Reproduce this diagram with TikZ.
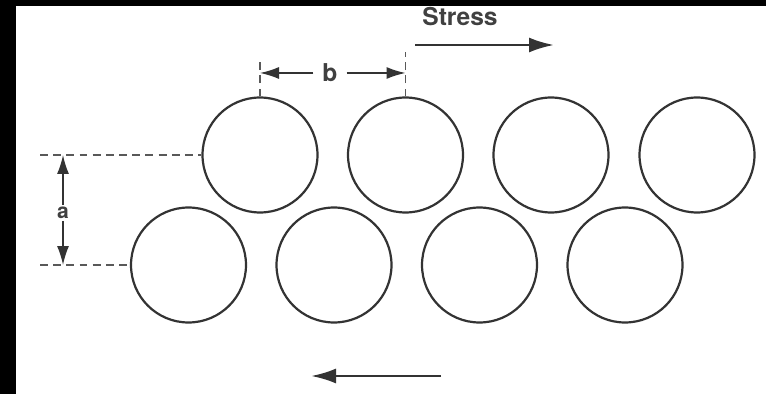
\documentclass[tikz,border=0pt]{standalone}
\usepackage{fontspec}
\setmainfont{TeX Gyre Heros}
\usepackage{tikz}
\usetikzlibrary{arrows.meta,positioning,calc}

\begin{document}
\begin{tikzpicture}[
  x=0.02cm, y=-0.02cm,
  fib/.style={circle, draw=black!80, line width=1.25pt, minimum size=2.3cm, inner sep=0pt},
  dim/.style={black!65, line width=0.7pt, dash pattern=on 4.5pt off 3pt},
  dimarr/.style={-{Latex[length=3.8mm, width=2.4mm]}, black!80, line width=0.8pt},
  sarr/.style={-{Latex[length=5mm, width=3mm]}, black!80, line width=1.5pt},
  lab/.style={font=\fontsize{14}{16}\selectfont\bfseries, text=black!75, inner sep=1pt},
]
\useasboundingbox (0,0) rectangle (766,394);
\fill[black] (0,0) rectangle (16,394);
\fill[black] (0,0) rectangle (766,6);

% ---------- fibres ----------
\foreach \i/\x in {1/260,2/405.5,3/551,4/697}{
  \node[fib] (top\i) at (\x,155) {};
}
\foreach \i/\x in {1/188.5,2/334,3/479.5,4/625}{
  \node[fib] (bot\i) at (\x,265) {};
}

% ---------- spacing a ----------
\coordinate (aT) at (40,155);
\coordinate (aB) at (40,265);
\draw[dim] (aT) -- (top1.west);
\draw[dim] (aB) -- (bot1.west);
\node[lab, font=\fontsize{12}{14}\selectfont\bfseries] (alab) at (63,213) {a};
\draw[dimarr] (alab) -- (alab |- aT);
\draw[dimarr] (alab) -- (alab |- aB);

% ---------- spacing b ----------
\coordinate (bL) at (260,62);
\coordinate (bR) at (405.5,52);
\draw[dim] (top1.north) -- (bL);
\draw[dim] (top2.north) -- (bR);
\node[lab, inner sep=5pt] (blab) at (330,73) {b};
\draw[dimarr] (blab) -- (blab -| top1.north);
\draw[dimarr] (blab) -- (blab -| top2.north);

% ---------- shear ----------
\node[lab] (stress) at (460,17) {Stress};
\coordinate (sA) at (415,45);
\coordinate (sB) at (554,45);
\draw[sarr] (sA) -- (sB);
\coordinate (rA) at (441,376);
\coordinate (rB) at (311,376);
\draw[sarr] (rA) -- (rB);
\end{tikzpicture}
\end{document}
